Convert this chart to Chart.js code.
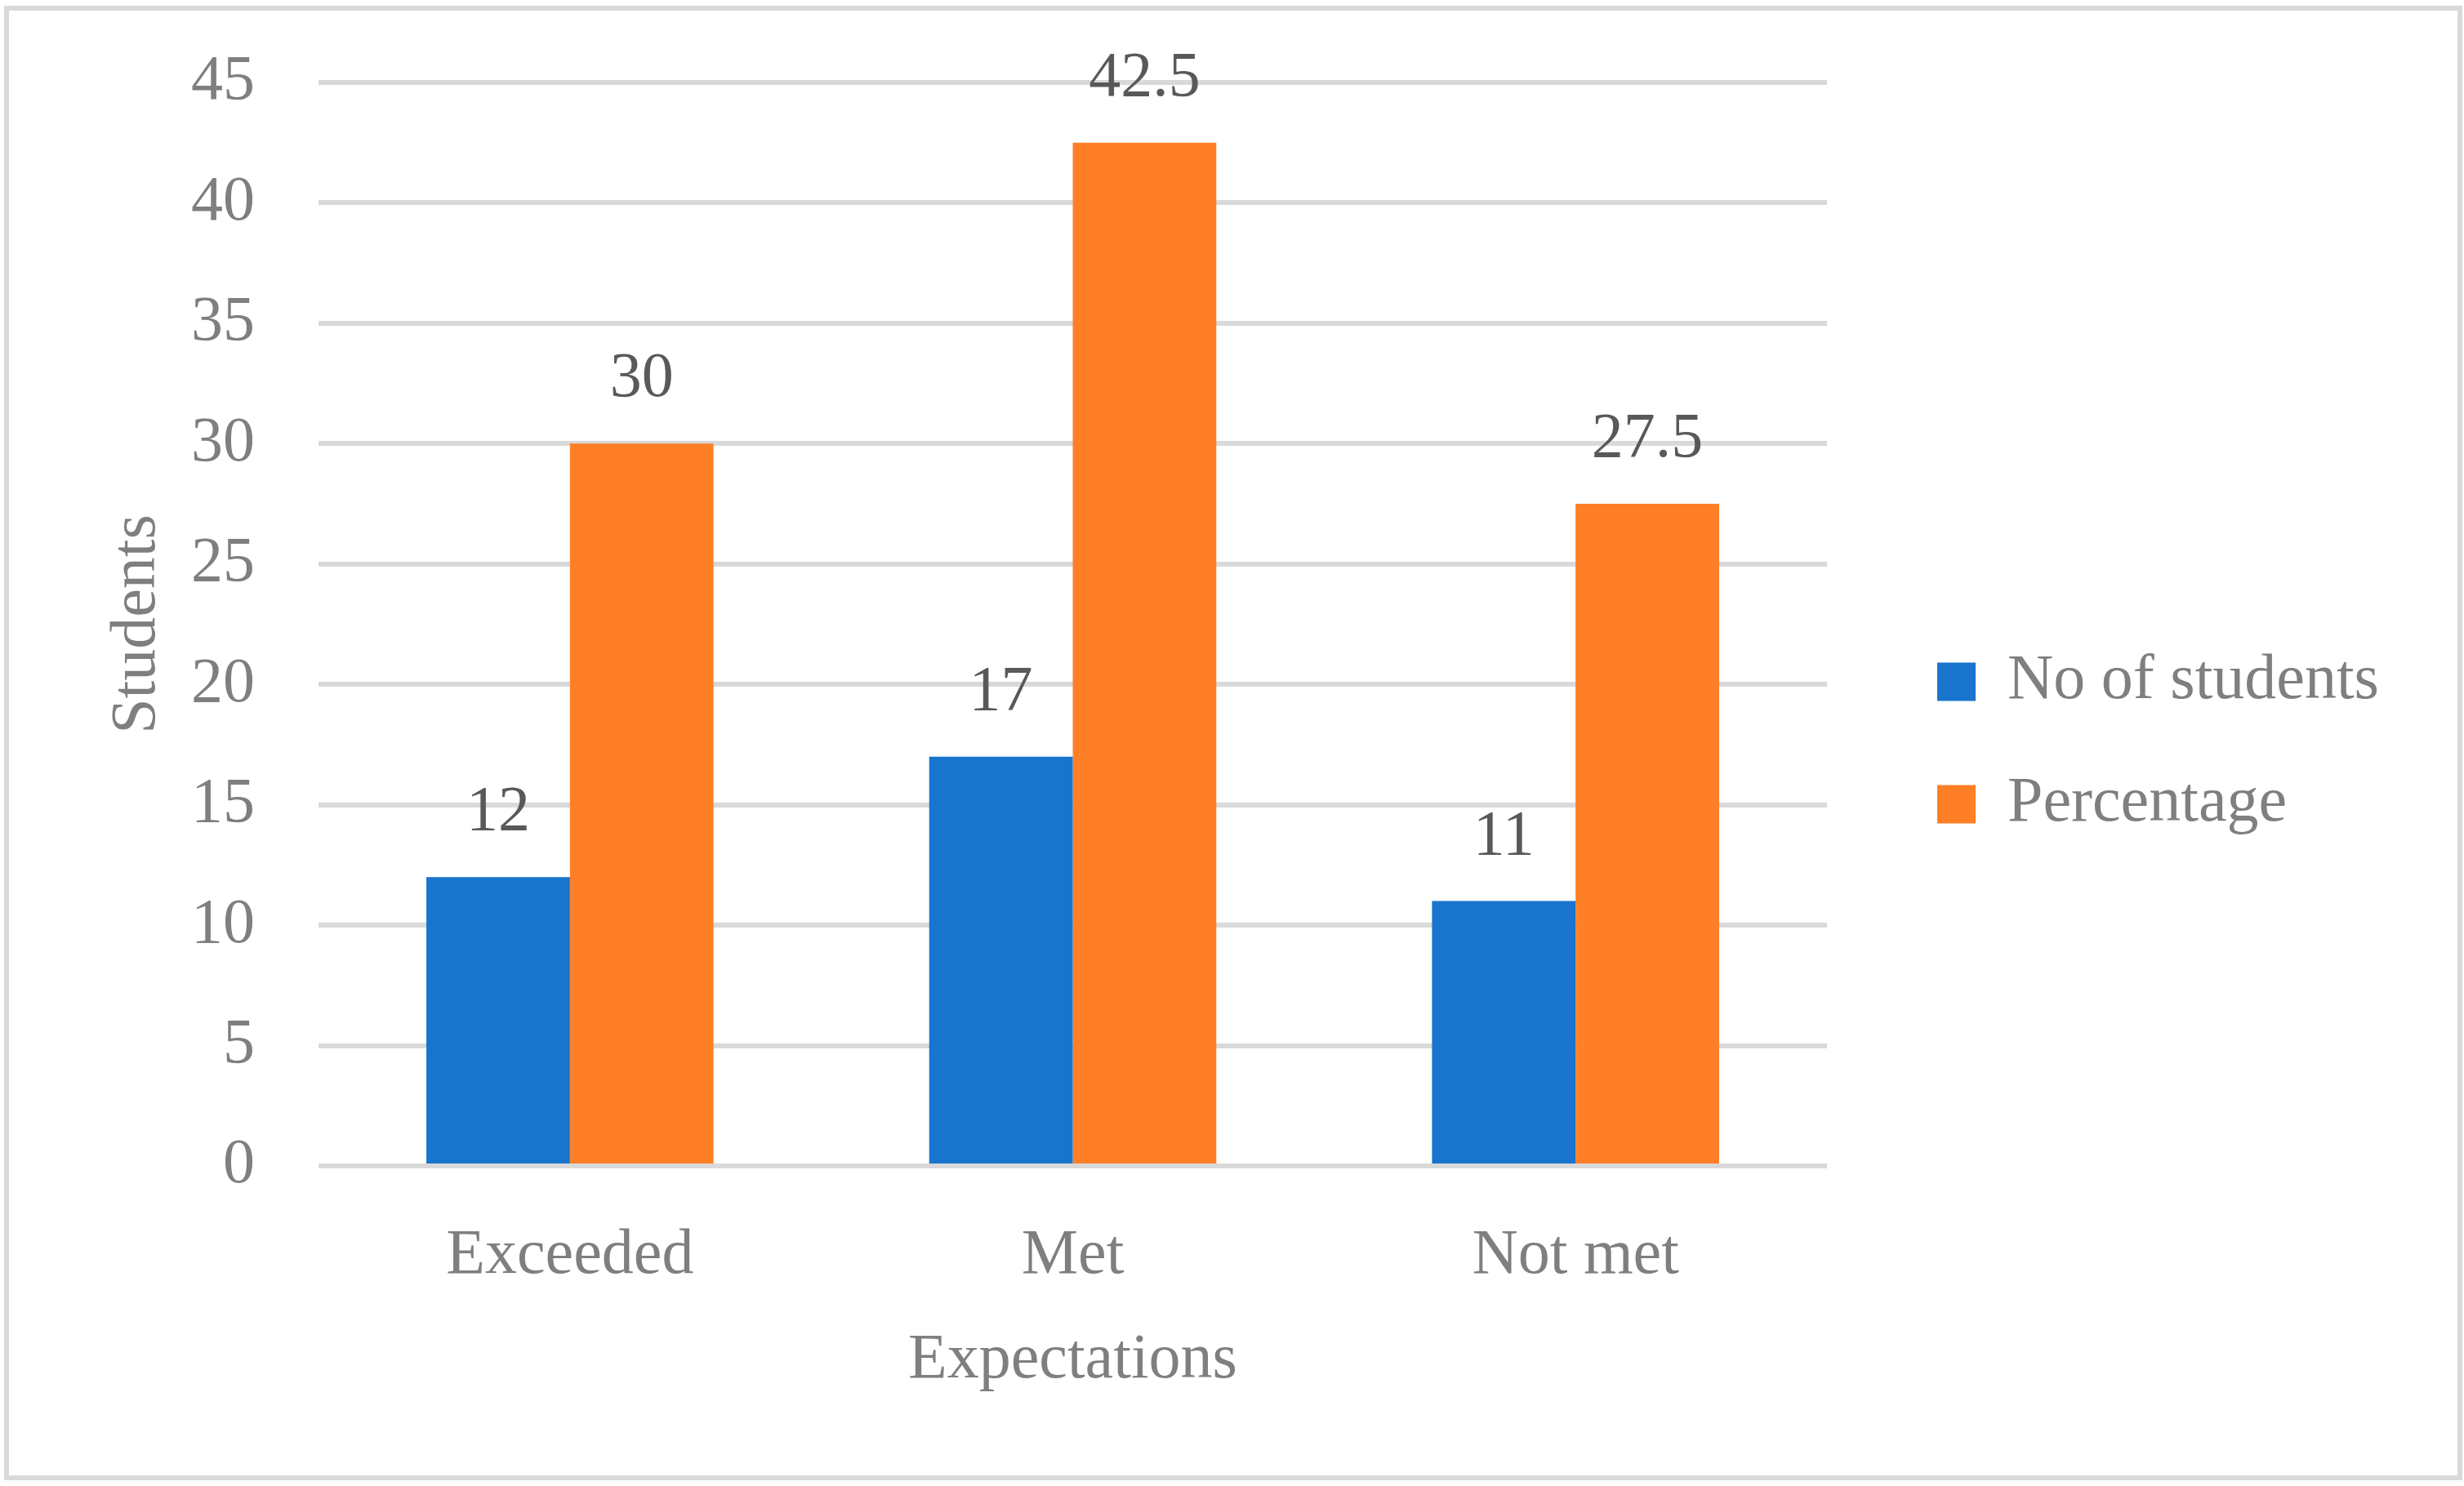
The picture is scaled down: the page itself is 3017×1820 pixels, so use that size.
<!DOCTYPE html>
<html>
<head>
<meta charset="utf-8">
<script src="https://cdn.jsdelivr.net/npm/chart.js@4.4.1/dist/chart.umd.min.js"></script>
<style>
  html, body { margin: 0; padding: 0; background: #ffffff; }
  #wrap { position: relative; width: 3017px; height: 1820px; }
</style>
</head>
<body>
<div id="wrap"><canvas id="c"></canvas></div>
<script>
// ---- data ----
const categories = ['Exceeded', 'Met', 'Not met'];
const seriesNames = ['No of students', 'Percentage'];
const studentsValues = [12, 17, 11];
const percentageValues = [30, 42.5, 27.5];
const yTickMin = 0;
const yTickMax = 45;
const yTickStep = 5;
const xAxisTitle = 'Expectations';
const yAxisTitle = 'Students';

// ---- style ----
const FONT_FAMILY = 'Liberation Serif';
const FONT_SIZE = 78;
const TEXT_GRAY = '#7f7f7f';
const LABEL_GRAY = '#595959';
const GRID_GRAY = '#d9d9d9';
const BLUE = '#1874cd';
const ORANGE = '#ff7f27';

// layout helpers
const W = 3017, H = 1820;
const legendLeftTarget = 2300;
const legendPad = 72;
const legendBox = 47;
const mctx = document.createElement('canvas').getContext('2d');
mctx.font = FONT_SIZE + 'px ' + FONT_FAMILY;
let maxTextW = 0;
seriesNames.forEach(n => { maxTextW = Math.max(maxTextW, mctx.measureText(n).width); });
const legendWidth = legendPad + legendBox + FONT_SIZE / 2 + maxTextW + 10;
const rightPad = Math.max(0, W - legendLeftTarget - legendWidth);

const frame = {
  id: 'frame',
  beforeDraw(chart) {
    const ctx = chart.ctx;
    ctx.save();
    ctx.fillStyle = '#ffffff';
    ctx.fillRect(0, 0, chart.width, chart.height);
    ctx.strokeStyle = GRID_GRAY;
    ctx.lineWidth = 6;
    ctx.strokeRect(8, 10, 3004, 1800);
    ctx.restore();
  }
};

const valueLabels = {
  id: 'valueLabels',
  afterDatasetsDraw(chart) {
    const ctx = chart.ctx;
    ctx.save();
    ctx.font = FONT_SIZE + 'px ' + FONT_FAMILY;
    ctx.fillStyle = LABEL_GRAY;
    ctx.textAlign = 'center';
    ctx.textBaseline = 'alphabetic';
    chart.data.datasets.forEach((ds, di) => {
      const meta = chart.getDatasetMeta(di);
      meta.data.forEach((el, i) => {
        ctx.fillText(String(ds.data[i]), el.x, el.y - 58);
      });
    });
    ctx.restore();
  }
};

const font = { family: FONT_FAMILY, size: FONT_SIZE };

new Chart(document.getElementById('c'), {
  type: 'bar',
  data: {
    labels: categories,
    datasets: [
      { label: seriesNames[0], data: studentsValues, backgroundColor: BLUE, borderWidth: 0, xAxisID: 'x', yAxisID: 'y' },
      { label: seriesNames[1], data: percentageValues, backgroundColor: ORANGE, borderWidth: 0, xAxisID: 'x', yAxisID: 'y' }
    ]
  },
  options: {
    responsive: true,
    maintainAspectRatio: false,
    devicePixelRatio: 1,
    animation: false,
    layout: { padding: { left: 20, top: 20, bottom: 20, right: rightPad } },
    datasets: { bar: { categoryPercentage: 0.571, barPercentage: 1.0 } },
    plugins: {
      tooltip: { enabled: false },
      legend: {
        position: 'right',
        align: 'center',
        labels: {
          font: font,
          color: TEXT_GRAY,
          boxWidth: legendBox,
          boxHeight: legendBox,
          padding: legendPad
        }
      }
    },
    scales: {
      x: {
        type: 'category',
        position: 'bottom',
        grid: { display: false, drawTicks: false },
        border: { display: false },
        ticks: { font: font, color: TEXT_GRAY, padding: 64, maxRotation: 0 },
        title: { display: true, text: xAxisTitle, font: font, color: TEXT_GRAY, padding: { top: 0, bottom: 87 } },
        afterFit(s) { s.height = 372; }
      },
      xTop: {
        type: 'category',
        position: 'top',
        display: false,
        afterFit(s) { s.height = 81; }
      },
      y: {
        type: 'linear',
        position: 'left',
        min: yTickMin,
        max: yTickMax,
        grid: { color: GRID_GRAY, lineWidth: 6, drawTicks: false },
        border: { display: false },
        ticks: { stepSize: yTickStep, font: font, color: TEXT_GRAY, padding: 78 },
        title: { display: true, text: yAxisTitle, font: font, color: TEXT_GRAY, padding: { top: 102, bottom: 0 } },
        afterFit(s) { s.width = 370; s.paddingTop = 0; s.paddingBottom = 0; }
      },
      y2: {
        type: 'linear',
        position: 'right',
        display: false,
        afterFit(s) { s.width = 63; }
      }
    }
  },
  plugins: [frame, valueLabels]
});
</script>
</body>
</html>
